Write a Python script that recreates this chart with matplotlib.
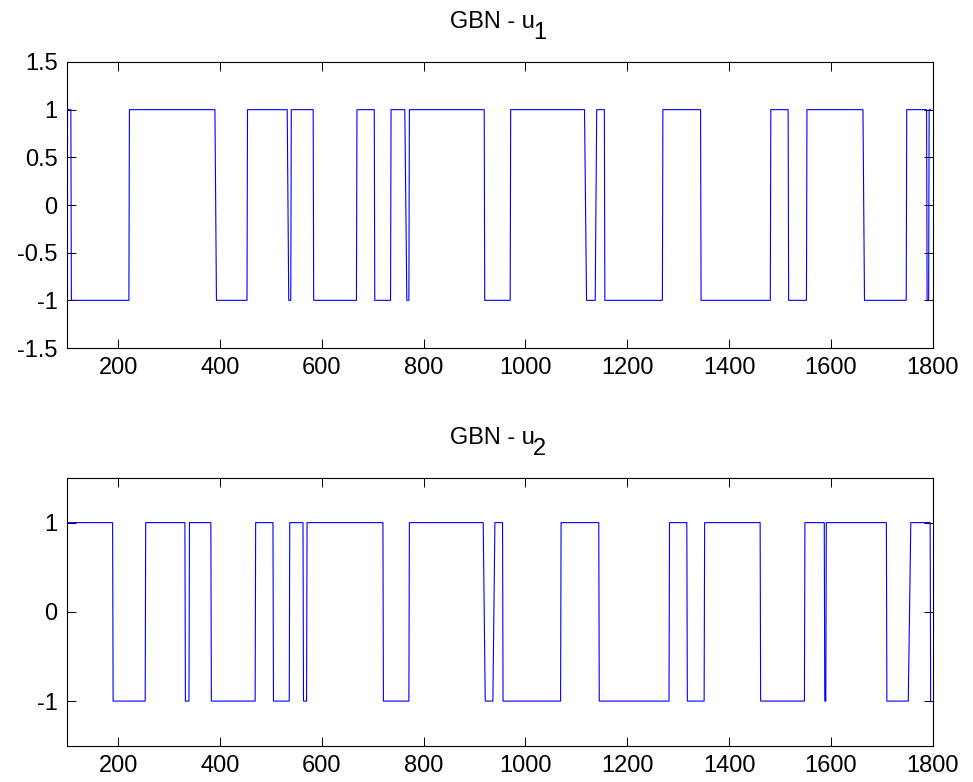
import matplotlib
matplotlib.use('Agg')
import matplotlib.pyplot as plt
from matplotlib.ticker import FuncFormatter, FixedLocator
from matplotlib.transforms import IdentityTransform

plt.rcParams['font.family'] = ['Liberation Sans', 'DejaVu Sans']

# ---------------- data ----------------
t_first = 101
t_last = 1796

u1_level0 = 1
u1_sw_start = [107, 221, 390, 453, 532, 539, 583, 668, 703, 735, 763, 771, 919, 970,
               1116, 1137, 1155, 1269, 1344, 1481, 1516, 1552, 1663, 1748, 1788, 1792]
u1_sw_end = [108, 222, 393, 454, 535, 540, 584, 669, 704, 736, 767, 772, 920, 971,
             1120, 1140, 1156, 1270, 1345, 1482, 1517, 1553, 1666, 1749, 1789, 1793]

u2_level0 = 1
u2_sw_start = [189, 253, 331, 339, 382, 469, 504, 536, 563, 570, 720, 771, 917, 936, 955,
               1069, 1144, 1282, 1317, 1351, 1461, 1548, 1587, 1590, 1709, 1752, 1795]
u2_sw_end = [190, 254, 332, 340, 383, 470, 505, 537, 564, 571, 721, 772, 921, 940, 956,
             1070, 1145, 1283, 1318, 1352, 1462, 1549, 1588, 1591, 1710, 1757, 1796]

x_ticks = [200, 400, 600, 800, 1000, 1200, 1400, 1600, 1800]
y_ticks_1 = [-1.5, -1, -0.5, 0, 0.5, 1, 1.5]
y_ticks_2 = [-1, 0, 1]
titles = [("GBN - u", "1"), ("GBN - u", "2")]


def build(level0, starts, ends):
    xs = [t_first]
    ys = [level0]
    lev = level0
    for s, e in zip(starts, ends):
        xs.append(s); ys.append(lev)
        lev = -lev
        xs.append(e); ys.append(lev)
    xs.append(t_last); ys.append(lev)
    return xs, ys


W, H = 973, 782
fig = plt.figure(figsize=(W / 100, H / 100), dpi=100)

ax1 = fig.add_axes([67.3 / W, 434 / H, 865.4 / W, 286 / H])
ax2 = fig.add_axes([67.3 / W, 36.3 / H, 865.4 / W, 267.7 / H])

fmt = FuncFormatter(lambda v, p: '%g' % v)
FS = 17

for ax, (lv, st, en), yt in [(ax1, (u1_level0, u1_sw_start, u1_sw_end), y_ticks_1),
                             (ax2, (u2_level0, u2_sw_start, u2_sw_end), y_ticks_2)]:
    x, y = build(lv, st, en)
    ax.plot(x, y, color='#0000ff', lw=0.8)
    ax.set_xlim(100, 1800)
    ax.set_ylim(-1.5, 1.5)
    ax.xaxis.set_major_locator(FixedLocator(x_ticks))
    ax.yaxis.set_major_locator(FixedLocator(yt))
    ax.xaxis.set_major_formatter(fmt)
    ax.yaxis.set_major_formatter(fmt)
    ax.tick_params(direction='in', top=True, right=True, length=6.2, width=0.7,
                   labelsize=FS, colors='black')
    ax.tick_params(axis='x', pad=6.5)
    ax.tick_params(axis='y', pad=7)
    for sp in ax.spines.values():
        sp.set_linewidth(0.8)
        sp.set_color('black')

fig.canvas.draw()
renderer = fig.canvas.get_renderer()


def add_title(main, sub, baseline, center):
    t = fig.text(0, baseline, main, fontsize=FS, ha='left', va='baseline',
                 transform=IdentityTransform())
    s = fig.text(0, baseline - 10.5, sub, fontsize=FS, ha='left', va='baseline',
                 transform=IdentityTransform())
    wm = t.get_window_extent(renderer).width
    ws = s.get_window_extent(renderer).width
    gap = -1.5
    x0 = center - (wm + gap + ws) / 2
    t.set_position((x0, baseline))
    s.set_position((x0 + wm + gap, baseline - 10.5))


add_title(titles[0][0], titles[0][1], H - 28.3, 498)
add_title(titles[1][0], titles[1][1], H - 444.3, 498)

fig.savefig('out.png', dpi=100)
